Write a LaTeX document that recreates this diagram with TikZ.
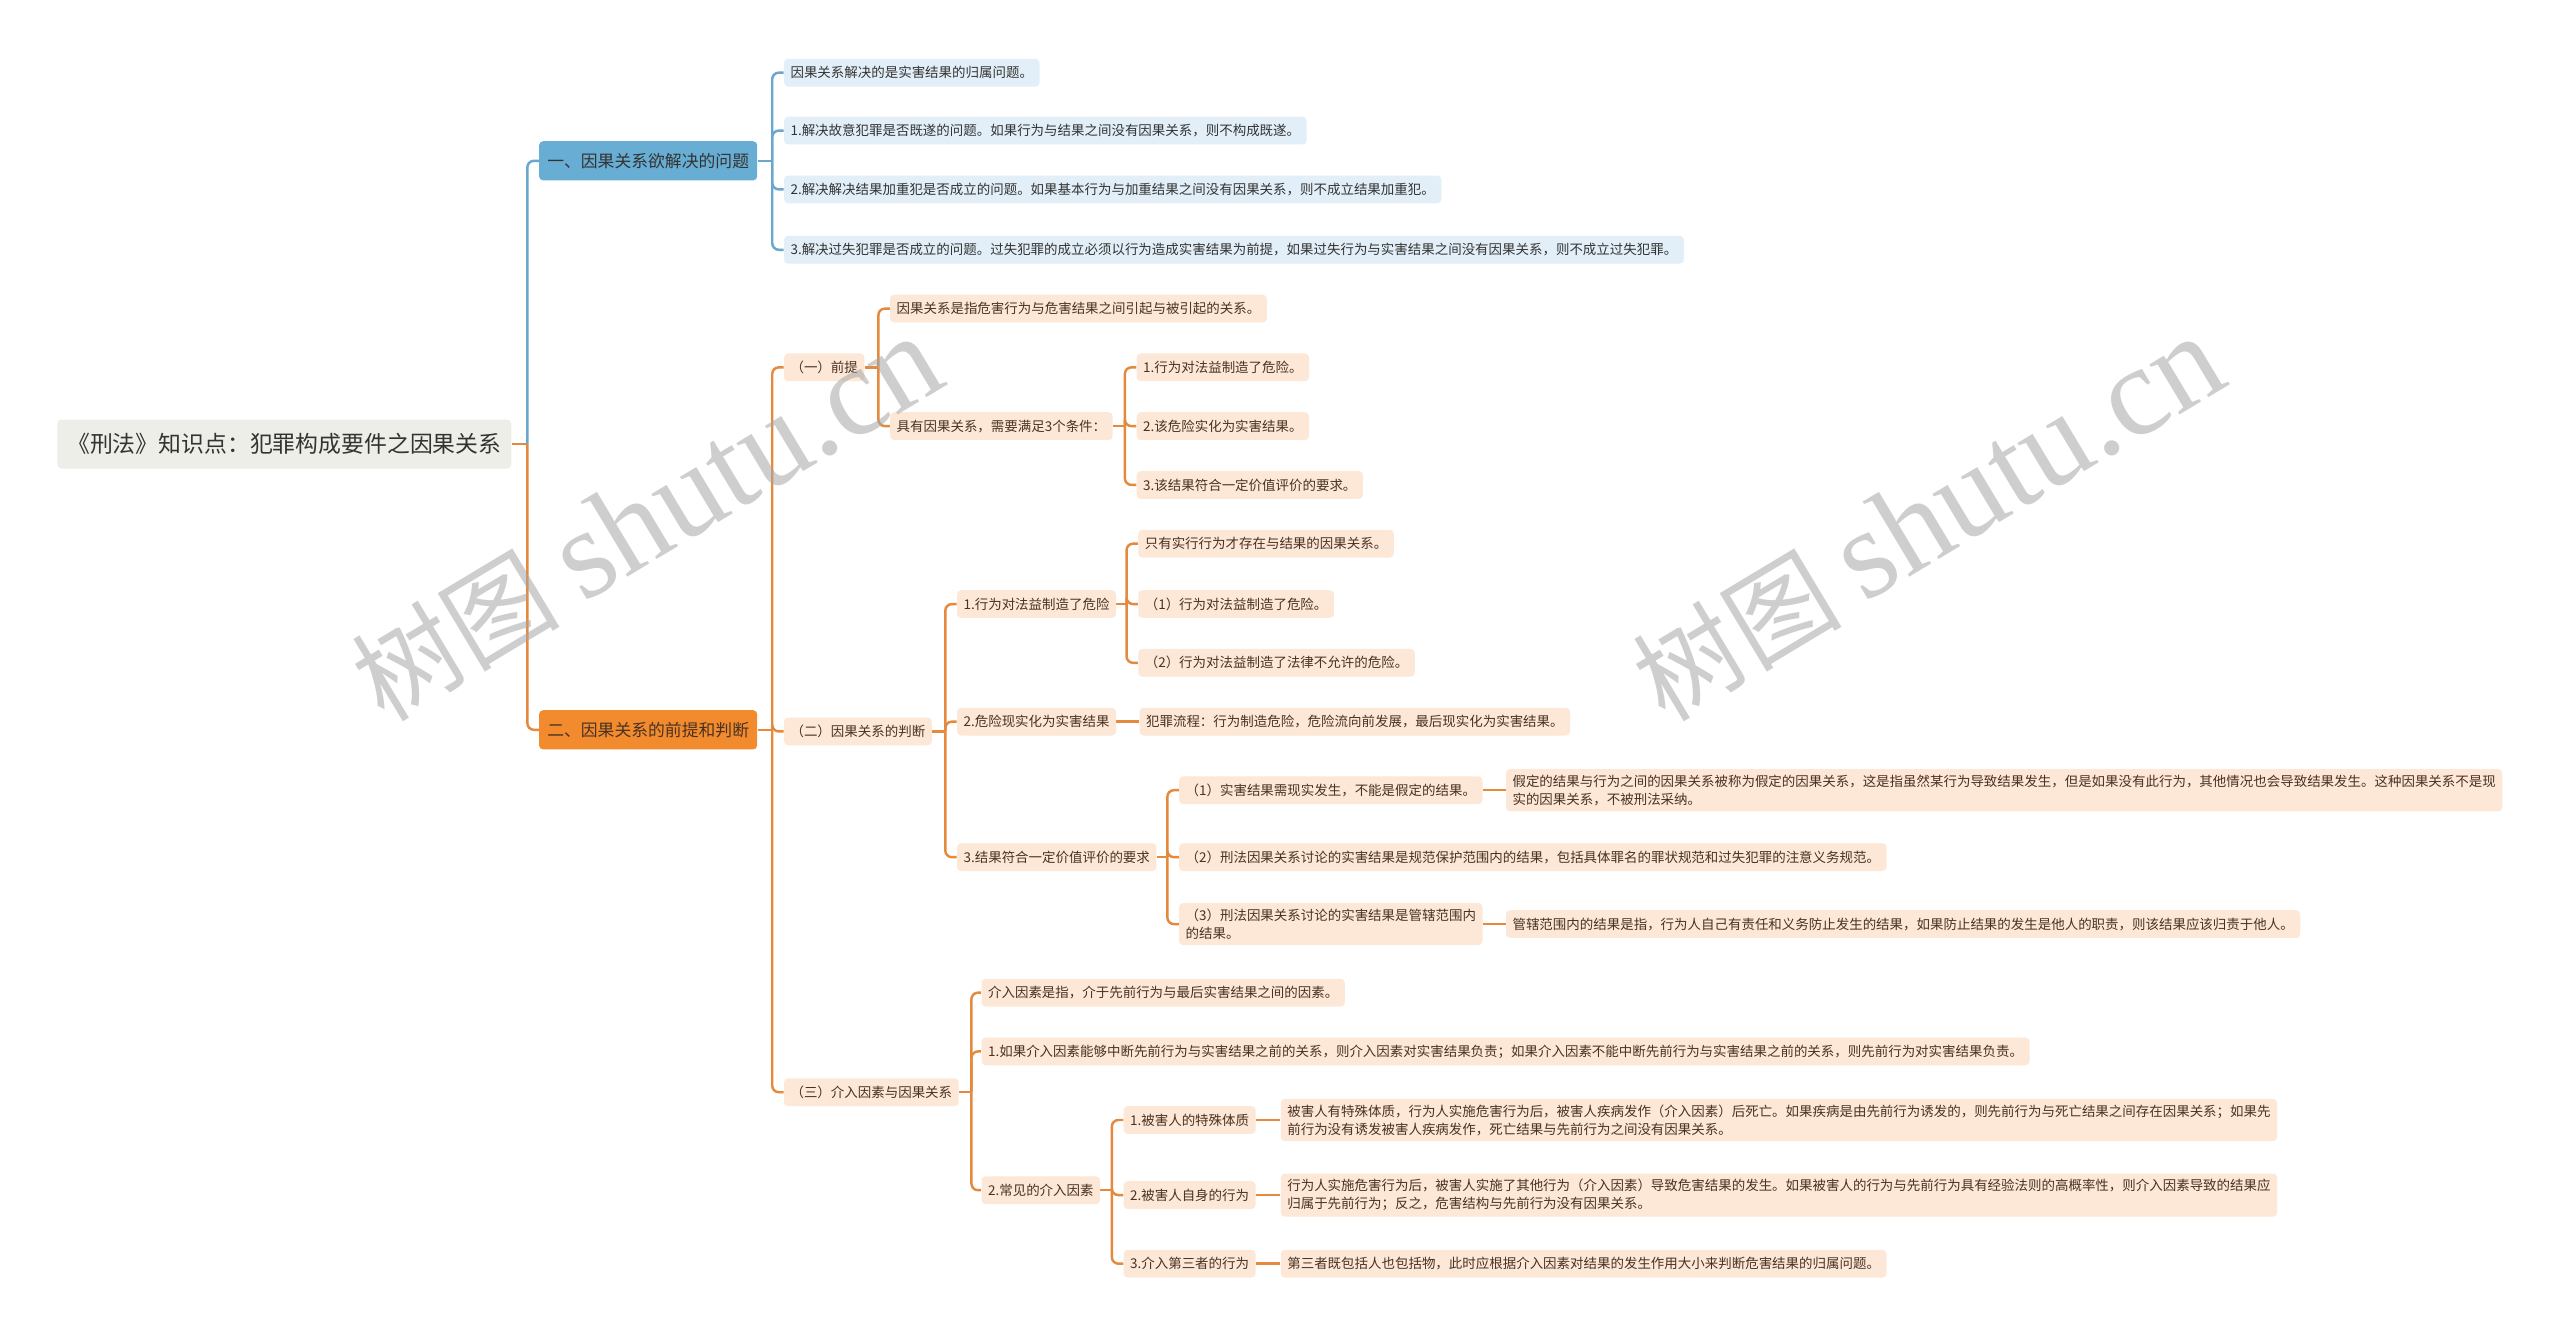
\documentclass[tikz,border=0pt]{standalone}
\usepackage{fontspec}
\setmainfont{Noto Sans CJK SC}
\newfontfamily\wmserif{Liberation Serif}
\usepackage{xcolor}
\usepackage{tikz}
\usetikzlibrary{calc}
\usetikzlibrary{positioning}

\definecolor{rootbg}{HTML}{EEEEE8}
\definecolor{bluetop}{HTML}{68ADD3}
\definecolor{blueleaf}{HTML}{E2EFF8}
\definecolor{bluelink}{HTML}{6BA7CC}
\definecolor{orgtop}{HTML}{F28A2E}
\definecolor{orgleaf}{HTML}{FDE7D7}
\definecolor{orglink}{HTML}{E58A3C}
\definecolor{darktxt}{HTML}{333333}
\definecolor{browntxt}{HTML}{4A3222}

\pgfdeclarelayer{bg}
\pgfsetlayers{bg,main}

\begin{document}
\begin{tikzpicture}[x=1pt, y=-1pt]

        % box looks for every level of the map
        \tikzset{
            box/.style={anchor=west, rounded corners=2.5pt, inner ysep=0pt,
                inner xsep=4pt, minimum height=17pt,
                font=\fontsize{8.25}{11}\selectfont},
            rootbox/.style={box, fill=rootbg, text=darktxt, inner xsep=6pt,
                minimum height=30pt, font=\fontsize{14}{16}\selectfont},
            bluehead/.style={box, fill=bluetop, text=darktxt, inner xsep=5pt,
                minimum height=24pt, font=\fontsize{10.3}{12}\selectfont},
            orghead/.style={bluehead, fill=orgtop, text=browntxt},
            bleaf/.style={box, fill=blueleaf, text=darktxt},
            oleaf/.style={box, fill=orgleaf, text=browntxt},
            otwo/.style={oleaf, align=left, inner ysep=3.5pt},
            blink/.style={draw=bluelink},
            olink/.style={draw=orglink},
            mark text/.style={text=gray!70, text opacity=0.55, rotate=31,
                inner sep=0pt}
        }

        \begin{scope}

            \node[rootbox] (R0) at (35, 272)
            {《刑法》知识点：犯罪构成要件之因果关系};
            \node[bluehead] (H1) at (330, 98.5) {一、因果关系欲解决的问题};
            \node[orghead] (H2) at (330, 447) {二、因果关系的前提和判断};

            \node[bleaf] (B1) at (480, 44.5)
            {因果关系解决的是实害结果的归属问题。};
            \node[bleaf] (B2) at (480, 80)
            {1.解决故意犯罪是否既遂的问题。如果行为与结果之间没有因果关系，则不构成既遂。};
            \node[bleaf] (B3) at (480, 116)
            {2.解决解决结果加重犯是否成立的问题。如果基本行为与加重结果之间没有因果关系，则不成立结果加重犯。};
            \node[bleaf] (B4) at (480, 153)
            {3.解决过失犯罪是否成立的问题。过失犯罪的成立必须以行为造成实害结果为前提，如果过失行为与实害结果之间没有因果关系，则不成立过失犯罪。};

            \node[oleaf] (O1) at (480, 225) {（一）前提};
            \node[oleaf] (O2) at (480, 448) {（二）因果关系的判断};
            \node[oleaf] (O3) at (480, 669) {（三）介入因素与因果关系};

            \node[oleaf] (P1) at (545, 189)
            {因果关系是指危害行为与危害结果之间引起与被引起的关系。};
            \node[oleaf] (P2) at (545, 261) {具有因果关系，需要满足3个条件：};
            \node[oleaf] (Q1) at (696, 225) {1.行为对法益制造了危险。};
            \node[oleaf] (Q2) at (696, 261) {2.该危险实化为实害结果。};
            \node[oleaf] (Q3) at (696, 297) {3.该结果符合一定价值评价的要求。};

            \node[oleaf] (J1) at (586, 370) {1.行为对法益制造了危险};
            \node[oleaf] (J2) at (586, 442) {2.危险现实化为实害结果};
            \node[oleaf] (J3) at (586, 525) {3.结果符合一定价值评价的要求};
            \node[oleaf] (S1) at (697, 333) {只有实行行为才存在与结果的因果关系。};
            \node[oleaf] (S2) at (697, 370) {（1）行为对法益制造了危险。};
            \node[oleaf] (S3) at (697, 406) {（2）行为对法益制造了法律不允许的危险。};
            \node[oleaf] (T1) [right=14pt of J2]
            {犯罪流程：行为制造危险，危险流向前发展，最后现实化为实害结果。};
            \node[oleaf] (U1) at (722, 484) {（1）实害结果需现实发生，不能是假定的结果。};
            \node[oleaf] (U2) at (722, 525)
            {（2）刑法因果关系讨论的实害结果是规范保护范围内的结果，包括具体罪名的罪状规范和过失犯罪的注意义务规范。};
            \node[otwo] (U3) at (722, 566)
            {（3）刑法因果关系讨论的实害结果是管辖范围内\\的结果。};
            \node[otwo] (V1) [right=14pt of U1]
            {假定的结果与行为之间的因果关系被称为假定的因果关系，这是指虽然某行为导致结果发生，但是如果没有此行为，其他情况也会导致结果发生。这种因果关系不是现\\实的因果关系，不被刑法采纳。};
            \node[oleaf] (V3) [right=14pt of U3]
            {管辖范围内的结果是指，行为人自己有责任和义务防止发生的结果，如果防止结果的发生是他人的职责，则该结果应该归责于他人。};

            \node[oleaf] (K1) at (601, 608)
            {介入因素是指，介于先前行为与最后实害结果之间的因素。};
            \node[oleaf] (K2) at (601, 644)
            {1.如果介入因素能够中断先前行为与实害结果之前的关系，则介入因素对实害结果负责；如果介入因素不能中断先前行为与实害结果之前的关系，则先前行为对实害结果负责。};
            \node[oleaf] (K3) at (601, 729) {2.常见的介入因素};
            \node[oleaf] (M1) at (688, 686) {1.被害人的特殊体质};
            \node[oleaf] (M2) at (688, 732) {2.被害人自身的行为};
            \node[oleaf] (M3) at (688, 774) {3.介入第三者的行为};
            \node[otwo] (N1) [right=15pt of M1]
            {被害人有特殊体质，行为人实施危害行为后，被害人疾病发作（介入因素）后死亡。如果疾病是由先前行为诱发的，则先前行为与死亡结果之间存在因果关系；如果先\\前行为没有诱发被害人疾病发作，死亡结果与先前行为之间没有因果关系。};
            \node[otwo] (N2) [right=15pt of M2]
            {行为人实施危害行为后，被害人实施了其他行为（介入因素）导致危害结果的发生。如果被害人的行为与先前行为具有经验法则的高概率性，则介入因素导致的结果应\\归属于先前行为；反之，危害结构与先前行为没有因果关系。};
            \node[oleaf] (N3) [right=15pt of M3]
            {第三者既包括人也包括物，此时应根据介入因素对结果的发生作用大小来判断危害结果的归属问题。};

            % watermark
            \node[mark text] (W1) at (396, 318)
            {\fontsize{64}{64}\selectfont 树图 {\wmserif\fontsize{78}{78}\selectfont shutu.cn}};
            \node[mark text] (W2) at (1181, 318)
            {\fontsize{64}{64}\selectfont 树图 {\wmserif\fontsize{78}{78}\selectfont shutu.cn}};
        \end{scope}

        \begin{pgfonlayer}{bg}
        \fill[white] (0,0) rectangle (1568,818);
        \useasboundingbox (0,0) rectangle (1568,818);

        \begin{scope}[line width=1.5pt, rounded corners=4pt]
            \coordinate (r0) at (323, 272);
            \draw[olink] (R0.east) -- (r0);
            \draw[blink] (r0) |- (H1.west);
            \draw[olink] (r0) |- (H2.west);

            \coordinate (h1) at (473, 98.5);
            \draw[blink] (H1.east) -- (h1);
            \foreach\x in {1,..., 4}
            \draw[blink] (h1) |- (B\x.west);

            \coordinate (h2) at (473, 447);
            \draw[olink] (H2.east) -- (h2);
            \foreach\x in {1,..., 3}
            \draw[olink] (h2) |- (O\x.west);

            \coordinate (o1) at (538, 225);
            \draw[olink] (O1.east) -- (o1);
            \foreach\x in {1, 2}
            \draw[olink] (o1) |- (P\x.west);

            \coordinate (p2) at (689, 261);
            \draw[olink] (P2.east) -- (p2);
            \foreach\x in {1,..., 3}
            \draw[olink] (p2) |- (Q\x.west);

            \coordinate (o2) at (579, 448);
            \draw[olink] (O2.east) -- (o2);
            \foreach\x in {1,..., 3}
            \draw[olink] (o2) |- (J\x.west);

            \coordinate (j1) at (690, 370);
            \draw[olink] (J1.east) -- (j1);
            \foreach\x in {1,..., 3}
            \draw[olink] (j1) |- (S\x.west);

            \draw[olink] (J2.east) -- (T1.west);

            \coordinate (j3) at (715, 525);
            \draw[olink] (J3.east) -- (j3);
            \foreach\x in {1,..., 3}
            \draw[olink] (j3) |- (U\x.west);

            \draw[olink] (U1.east) -- (V1.west);
            \draw[olink] (U3.east) -- (V3.west);

            \coordinate (o3) at (595, 669);
            \draw[olink] (O3.east) -- (o3);
            \foreach\x in {1,..., 3}
            \draw[olink] (o3) |- (K\x.west);

            \coordinate (k3) at (681, 729);
            \draw[olink] (K3.east) -- (k3);
            \foreach\x in {1,..., 3}
            \draw[olink] (k3) |- (M\x.west);

            \foreach\x in {1,..., 3}
            \draw[olink] (M\x.east) -- (N\x.west);
        \end{scope}
        \end{pgfonlayer}

\end{tikzpicture}
\end{document}
